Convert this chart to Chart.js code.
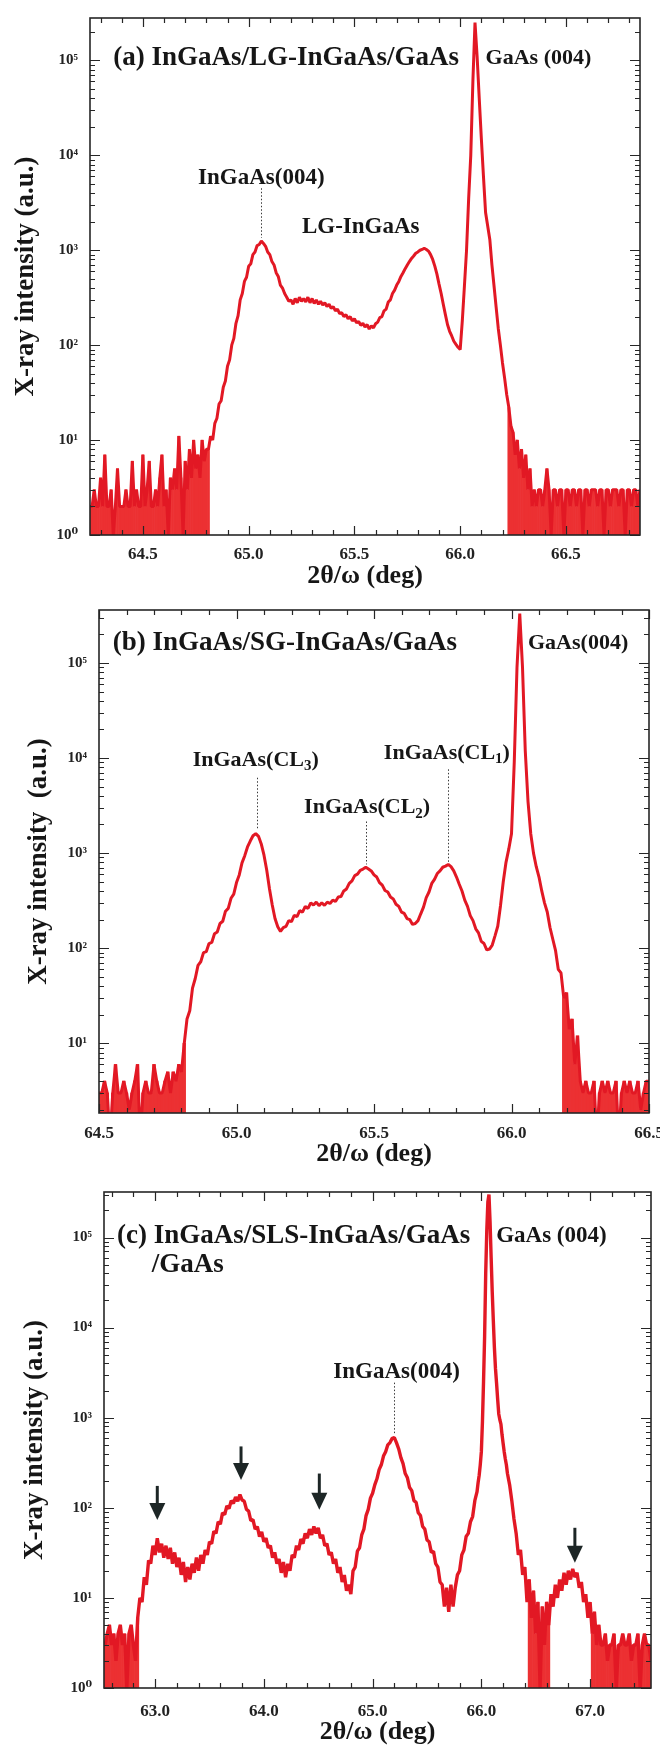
<!DOCTYPE html>
<html lang="en">
<head>
<meta charset="utf-8">
<title>HRXRD 2θ/ω scans</title>
<script src="https://cdn.jsdelivr.net/npm/chart.js@4.4.1/dist/chart.umd.min.js"></script>
<style>
  html, body { margin: 0; padding: 0; background: #fff; }
  #page { position: relative; width: 660px; height: 1748px; overflow: hidden; background: #fff; }
  #page canvas { position: absolute; left: 0; }
</style>
</head>
<body>
<div id="page">
  <canvas id="scanA" width="660" height="592" style="top:0px"></canvas>
  <canvas id="scanB" width="660" height="578" style="top:592px"></canvas>
  <canvas id="scanC" width="660" height="578" style="top:1170px"></canvas>
</div>
<script>
// === Scan data: [2θ/ω (deg), intensity (counts)] ===

// (a) InGaAs/LG-InGaAs/GaAs
const scanA = [
  [64.25,2],[64.26,2],[64.27,3],[64.28,2],[64.29,2],[64.30,4],[64.31,2],[64.32,7],[64.33,2],[64.34,2],
  [64.35,3],[64.36,1],[64.37,2],[64.38,5],[64.39,2],[64.40,2],[64.41,2],[64.42,3],[64.43,2],[64.44,2],
  [64.45,6],[64.46,2],[64.47,3],[64.48,2],[64.49,2],[64.50,7],[64.51,2],[64.52,3],[64.53,6],[64.54,2],
  [64.55,2],[64.56,3],[64.57,2],[64.58,4],[64.59,7],[64.60,2],[64.61,3],[64.62,1],[64.63,4],[64.64,3],
  [64.65,5],[64.66,3],[64.67,11],[64.68,4],[64.69,1],[64.70,6],[64.71,3],[64.72,8],[64.73,4],[64.74,10],
  [64.75,5],[64.76,7],[64.77,4],[64.78,10],[64.79,6],[64.80,8],
  [64.81,8],[64.82,11],[64.83,10],[64.84,15],[64.85,17],[64.86,24],[64.87,26],[64.88,36],[64.89,42],[64.90,60],
  [64.91,70],[64.92,100],[64.93,118],[64.94,170],[64.95,205],[64.96,300],[64.97,350],[64.98,470],[64.99,520],[65.00,680],
  [65.01,720],[65.02,900],[65.03,960],[65.04,1120],[65.05,1150],[65.06,1250],[65.07,1180],[65.08,1100],[65.09,960],[65.10,900],
  [65.11,760],[65.12,700],[65.13,580],[65.14,530],[65.15,430],[65.16,400],[65.17,350],[65.18,320],[65.19,290],[65.20,300],
  [65.21,270],[65.22,310],[65.23,280],[65.24,320],[65.25,290],[65.26,310],[65.27,285],[65.28,320],[65.29,280],[65.30,310],
  [65.31,275],[65.32,300],[65.33,270],[65.34,290],[65.35,265],[65.36,280],[65.37,255],[65.38,270],[65.39,245],[65.40,255],
  [65.41,230],[65.42,240],[65.43,215],[65.44,220],[65.45,200],[65.46,210],[65.47,190],[65.48,200],[65.49,180],[65.50,190],
  [65.51,172],[65.52,178],[65.53,162],[65.54,170],[65.55,155],[65.56,165],[65.57,148],[65.58,160],[65.59,152],[65.60,168],
  [65.61,175],[65.62,195],[65.63,200],[65.64,230],[65.65,240],[65.66,285],[65.67,300],[65.68,350],[65.69,380],[65.70,430],
  [65.71,470],[65.72,530],[65.73,580],[65.74,640],[65.75,700],[65.76,760],[65.77,820],[65.78,870],[65.79,930],[65.80,960],
  [65.81,1000],[65.82,1020],[65.83,1050],[65.84,1020],[65.85,980],[65.86,900],[65.87,800],[65.88,680],[65.89,560],[65.90,440],
  [65.91,350],[65.92,270],[65.93,210],[65.94,165],[65.95,140],[65.96,125],[65.97,110],[65.98,102],[65.99,95],[66.00,90],
  [66.01,180],[66.02,420],[66.03,1000],[66.04,3500],[66.05,10000],[66.06,60000],[66.07,250000],[66.08,110000],[66.09,40000],[66.10,15000],
  [66.11,6000],[66.12,2500],[66.13,1800],[66.14,1300],[66.15,700],[66.16,420],[66.17,250],[66.18,150],[66.19,100],[66.20,65],
  [66.21,45],[66.22,30],[66.23,22],[66.24,14],[66.25,12],[66.26,7],[66.27,10],[66.28,5],[66.29,8],[66.30,4],
  [66.31,7],[66.32,3],[66.33,5],[66.34,2],
  [66.35,3],[66.36,2],[66.37,3],[66.38,3],[66.39,2],[66.40,3],[66.41,5],[66.42,3],[66.43,1],[66.44,3],
  [66.45,3],[66.46,2],[66.47,3],[66.48,3],[66.49,1],[66.50,3],[66.51,3],[66.52,2],[66.53,3],[66.54,3],
  [66.55,2],[66.56,3],[66.57,3],[66.58,1],[66.59,3],[66.60,3],[66.61,2],[66.62,3],[66.63,3],[66.64,3],
  [66.65,2],[66.66,3],[66.67,3],[66.68,1],[66.69,3],[66.70,3],[66.71,2],[66.72,3],[66.73,3],[66.74,3],
  [66.75,2],[66.76,3],[66.77,3],[66.78,1],[66.79,3],[66.80,3],[66.81,2],[66.82,3],[66.83,3],[66.84,2],[66.85,3]
];

// (b) InGaAs/SG-InGaAs/GaAs
const scanB = [
  [64.50,3],[64.51,3],[64.52,4],[64.53,3],[64.54,1],[64.55,3],[64.56,6],[64.57,3],[64.58,3],[64.59,4],
  [64.60,3],[64.61,2],[64.62,3],[64.63,4],[64.64,6],[64.65,1],[64.66,3],[64.67,4],[64.68,3],[64.69,3],
  [64.70,6],[64.71,4],[64.72,3],[64.73,3],[64.74,4],[64.75,5],[64.76,3],[64.77,5],[64.78,4],[64.79,6],[64.80,5],
  [64.81,10],[64.82,18],[64.83,22],[64.84,38],[64.85,48],[64.86,66],[64.87,72],[64.88,90],[64.89,92],[64.90,112],
  [64.91,115],[64.92,142],[64.93,148],[64.94,182],[64.95,192],[64.96,245],[64.97,262],[64.98,335],[64.99,370],[65.00,490],
  [65.01,590],[65.02,790],[65.03,940],[65.04,1160],[65.05,1340],[65.06,1520],[65.07,1600],[65.08,1500],[65.09,1250],[65.10,950],
  [65.11,660],[65.12,420],[65.13,285],[65.14,205],[65.15,168],[65.16,150],[65.17,165],[65.18,170],[65.19,195],[65.20,190],
  [65.21,222],[65.22,215],[65.23,248],[65.24,240],[65.25,275],[65.26,262],[65.27,300],[65.28,285],[65.29,305],[65.30,280],
  [65.31,300],[65.32,282],[65.33,305],[65.34,295],[65.35,320],[65.36,310],[65.37,345],[65.38,350],[65.39,400],[65.40,420],
  [65.41,480],[65.42,510],[65.43,580],[65.44,600],[65.45,660],[65.46,680],[65.47,710],[65.48,680],[65.49,650],[65.50,590],
  [65.51,560],[65.52,490],[65.53,460],[65.54,405],[65.55,390],[65.56,345],[65.57,330],[65.58,290],[65.59,275],[65.60,240],
  [65.61,232],[65.62,205],[65.63,200],[65.64,178],[65.65,182],[65.66,195],[65.67,230],[65.68,270],[65.69,340],[65.70,390],
  [65.71,480],[65.72,530],[65.73,610],[65.74,650],[65.75,710],[65.76,730],[65.77,760],[65.78,720],[65.79,650],[65.80,560],
  [65.81,470],[65.82,400],[65.83,320],[65.84,275],[65.85,220],[65.86,195],[65.87,160],[65.88,145],[65.89,118],[65.90,112],
  [65.91,96],[65.92,98],[65.93,108],[65.94,135],[65.95,170],[65.96,280],[65.97,500],[65.98,800],[65.99,1100],[66.00,1600],
  [66.01,9000],[66.02,90000],[66.03,330000],[66.04,90000],[66.05,12000],[66.06,3500],[66.07,1600],[66.08,1000],[66.09,720],[66.10,560],
  [66.11,400],[66.12,300],[66.13,240],[66.14,165],[66.15,125],[66.16,95],[66.17,60],[66.18,55],[66.19,30],[66.20,34],
  [66.21,14],[66.22,18],[66.23,6],[66.24,12],[66.25,4],
  [66.26,3],[66.27,4],[66.28,3],[66.29,3],[66.30,4],[66.31,1],[66.32,3],[66.33,4],[66.34,3],[66.35,4],
  [66.36,3],[66.37,3],[66.38,4],[66.39,1],[66.40,3],[66.41,4],[66.42,3],[66.43,4],[66.44,3],[66.45,3],
  [66.46,4],[66.47,2],[66.48,3],[66.49,4],[66.50,4]
];

// (c) InGaAs/SLS-InGaAs/GaAs/GaAs
const scanC = [
  [62.54,3],[62.56,4],[62.58,5],[62.60,3],[62.62,4],[62.64,2],[62.66,4],[62.68,5],[62.70,3],[62.72,4],
  [62.74,1],[62.76,4],[62.78,5],[62.80,3],[62.82,2],
  [62.84,6],[62.86,10],[62.88,9],[62.90,17],[62.92,14],[62.94,26],[62.96,24],[62.98,38],[63.00,30],[63.02,46],
  [63.04,32],[63.06,40],[63.08,28],[63.10,38],[63.12,27],[63.14,36],[63.16,24],[63.18,32],[63.20,22],[63.22,28],
  [63.24,18],[63.26,25],[63.28,15],[63.30,22],[63.32,16],[63.34,24],[63.36,19],[63.38,28],[63.40,20],[63.42,30],
  [63.44,24],[63.46,34],[63.48,30],[63.50,42],[63.52,40],[63.54,55],[63.56,52],[63.58,70],[63.60,66],[63.62,88],
  [63.64,84],[63.66,105],[63.68,98],[63.70,120],[63.72,112],[63.74,132],[63.76,118],[63.78,140],[63.80,122],[63.82,118],
  [63.84,96],[63.86,92],[63.88,72],[63.90,74],[63.92,58],[63.94,62],[63.96,48],[63.98,54],[64.00,42],[64.02,46],
  [64.04,36],[64.06,38],[64.08,28],[64.10,32],[64.12,24],[64.14,27],[64.16,19],[64.18,25],[64.20,17],[64.22,24],
  [64.24,20],[64.26,30],[64.28,28],[64.30,38],[64.32,34],[64.34,45],[64.36,40],[64.38,52],[64.40,46],[64.42,58],
  [64.44,50],[64.46,62],[64.48,52],[64.50,60],[64.52,46],[64.54,50],[64.56,38],[64.58,40],[64.60,30],[64.62,32],
  [64.64,24],[64.66,27],[64.68,19],[64.70,22],[64.72,15],[64.74,18],[64.76,12],[64.78,14],[64.80,11],[64.82,20],
  [64.84,22],[64.86,33],[64.88,36],[64.90,50],[64.92,58],[64.94,82],[64.96,96],[64.98,128],[65.00,145],[65.02,180],
  [65.04,210],[65.06,265],[65.08,300],[65.10,375],[65.12,420],[65.14,500],[65.16,530],[65.18,590],[65.20,600],[65.22,525],
  [65.24,450],[65.26,360],[65.28,310],[65.30,240],[65.32,215],[65.34,168],[65.36,155],[65.38,120],[65.40,115],[65.42,88],
  [65.44,82],[65.46,62],[65.48,58],[65.50,44],[65.52,42],[65.54,32],[65.56,33],[65.58,24],[65.60,22],[65.62,15],
  [65.64,14],[65.66,8],[65.68,13],[65.70,7],[65.72,14],[65.74,8],[65.76,13],[65.78,18],[65.80,20],[65.82,30],
  [65.84,34],[65.86,48],[65.88,52],[65.90,70],[65.92,80],[65.94,120],
  [65.96,150],[65.97,190],[65.98,230],[65.99,300],[66.00,420],[66.01,900],[66.02,2500],[66.03,8000],[66.04,40000],[66.05,120000],
  [66.06,250000],[66.07,300000],[66.08,150000],[66.09,60000],[66.10,25000],[66.11,12000],[66.12,6000],[66.13,3500],[66.14,2400],[66.15,1600],
  [66.16,1100],[66.17,950],[66.18,850],[66.19,650],[66.20,520],[66.21,420],[66.22,350],[66.23,300],[66.24,240],
  [66.26,180],[66.28,120],[66.30,75],[66.32,52],[66.34,30],[66.36,34],[66.38,18],[66.40,22],[66.42,9],[66.44,16],
  [66.46,6],[66.48,12],[66.50,4],[66.52,9],[66.54,1],[66.56,8],[66.58,3],[66.60,9],[66.62,5],[66.64,11],
  [66.66,8],[66.68,14],[66.70,10],[66.72,16],[66.74,12],[66.76,19],[66.78,14],[66.80,20],[66.82,16],[66.84,21],
  [66.86,17],[66.88,19],[66.90,13],[66.92,15],[66.94,9],[66.96,11],[66.98,6],[67.00,9],[67.02,4],[67.04,7],
  [67.06,3],[67.08,5],
  [67.10,3],[67.12,3],[67.14,4],[67.16,2],[67.18,3],[67.20,3],[67.22,4],[67.24,1],[67.26,3],[67.28,3],
  [67.30,4],[67.32,3],[67.34,3],[67.36,4],[67.38,2],[67.40,3],[67.42,3],[67.44,4],[67.46,1],[67.48,3],
  [67.50,4],[67.52,3],[67.54,3],[67.56,2]
];

// background-level stretches of each scan (2θ/ω ranges, deg)
const floorA = [[64.25, 64.81], [66.23, 66.85]];
const floorB = [[64.50, 64.81], [66.19, 66.50]];
const floorC = [[62.54, 62.84], [66.44, 66.62], [67.02, 67.56]];

// tick values and labels
const xTicksAB = [64.5, 65.0, 65.5, 66.0, 66.5];
const xTicksC = [63.0, 64.0, 65.0, 66.0, 67.0];
const yDecades = [1, 10, 100, 1000, 10000, 100000];
const yDecadeLabels = ['10⁰', '10¹', '10²', '10³', '10⁴', '10⁵'];

// captions and peak names
const xTitle = '2θ/ω (deg)';
const yTitle = 'X-ray intensity (a.u.)';
const captionA = '(a) InGaAs/LG-InGaAs/GaAs';
const captionB = '(b) InGaAs/SG-InGaAs/GaAs';
const captionC = ['(c) InGaAs/SLS-InGaAs/GaAs', '/GaAs'];
const peakNamesA = ['GaAs (004)', 'InGaAs(004)', 'LG-InGaAs'];
const peakNamesB = ['GaAs(004)', 'InGaAs(CL', 'InGaAs(CL', 'InGaAs(CL'];
const peakNamesC = ['GaAs (004)', 'InGaAs(004)'];
// satellite peaks marked with arrows in (c): [position, arrow tail, arrow tip]
const arrowsC = [[63.02, 175, 73], [63.79, 480, 204], [64.51, 240, 95], [66.86, 60, 24.5]];

const serif = '"Liberation Serif", "Times New Roman", "DejaVu Serif", serif';
const lineRed = 'rgb(226, 24, 36)';
const floorFill = 'rgb(236, 48, 50)';
const ink = '#161616';

// frame with inward ticks on all four sides
const framePlugin = {
  id: 'xrdFrame',
  afterDatasetsDraw(chart, args, opts) {
    const { ctx, chartArea: a, scales: { x, y } } = chart;
    ctx.save();
    ctx.strokeStyle = '#262626';
    ctx.lineWidth = 1.2;
    ctx.beginPath();
    const first = Math.ceil(x.min / opts.xMinor - 1e-6);
    for (let i = first; i * opts.xMinor <= x.max + 1e-9; i++) {
      const v = i * opts.xMinor;
      const isMajor = Math.abs(v / opts.xMajor - Math.round(v / opts.xMajor)) < 1e-6;
      const len = isMajor ? 9 : 5;
      const px = Math.round(x.getPixelForValue(v)) + 0.5;
      ctx.moveTo(px, a.bottom); ctx.lineTo(px, a.bottom - len);
      ctx.moveTo(px, a.top); ctx.lineTo(px, a.top + len);
    }
    const d0 = Math.floor(Math.log10(y.min));
    const d1 = Math.ceil(Math.log10(y.max));
    for (let d = d0; d <= d1; d++) {
      for (let k = 1; k <= 9; k++) {
        const v = k * Math.pow(10, d);
        if (v < y.min || v > y.max) continue;
        const len = k === 1 ? 10 : 5;
        const py = Math.round(y.getPixelForValue(v)) + 0.5;
        ctx.moveTo(a.left, py); ctx.lineTo(a.left + len, py);
        ctx.moveTo(a.right, py); ctx.lineTo(a.right - len, py);
      }
    }
    ctx.stroke();
    ctx.lineWidth = 1.6;
    ctx.strokeRect(a.left, a.top, a.right - a.left, a.bottom - a.top);
    ctx.restore();
  }
};

function drawLabel(ctx, t, x, y) {
  const size = t.size;
  const main = `bold ${size}px ${serif}`;
  const small = `bold ${Math.round(size * 0.66)}px ${serif}`;
  ctx.font = main;
  const w1 = ctx.measureText(t.text).width;
  ctx.font = small;
  const w2 = t.sub ? ctx.measureText(t.sub).width : 0;
  ctx.font = main;
  const w3 = t.after ? ctx.measureText(t.after).width : 0;
  const total = w1 + w2 + w3;
  let px = x.getPixelForValue(t.x);
  if (t.align === 'center') px -= total / 2;
  const py = y.getPixelForValue(t.y);
  ctx.fillStyle = ink;
  ctx.textBaseline = 'middle';
  ctx.textAlign = 'left';
  ctx.fillText(t.text, px, py);
  if (t.sub) {
    ctx.font = small;
    ctx.fillText(t.sub, px + w1, py + size * 0.28);
    ctx.font = main;
    ctx.fillText(t.after, px + w1 + w2, py);
  }
}

// captions, peak labels, dotted leaders and arrows
const markPlugin = {
  id: 'xrdMarks',
  afterDatasetsDraw(chart, args, opts) {
    const { ctx, scales: { x, y } } = chart;
    ctx.save();
    ctx.strokeStyle = '#3a3a3a';
    ctx.lineWidth = 1;
    ctx.setLineDash([1.5, 2]);
    for (const [v, top, bottom] of opts.leaders || []) {
      const px = Math.round(x.getPixelForValue(v)) + 0.5;
      ctx.beginPath();
      ctx.moveTo(px, y.getPixelForValue(top));
      ctx.lineTo(px, y.getPixelForValue(bottom));
      ctx.stroke();
    }
    ctx.setLineDash([]);
    ctx.fillStyle = '#1d2626';
    ctx.strokeStyle = '#1d2626';
    for (const [v, tail, tip] of opts.arrows || []) {
      const px = x.getPixelForValue(v);
      const y0 = y.getPixelForValue(tail);
      const y1 = y.getPixelForValue(tip);
      ctx.lineWidth = 3;
      ctx.beginPath();
      ctx.moveTo(px, y0);
      ctx.lineTo(px, y1 - 14);
      ctx.stroke();
      ctx.beginPath();
      ctx.moveTo(px - 8, y1 - 17);
      ctx.lineTo(px + 8, y1 - 17);
      ctx.lineTo(px, y1);
      ctx.closePath();
      ctx.fill();
    }
    for (const t of opts.labels || []) drawLabel(ctx, t, x, y);
    ctx.restore();
  }
};

function buildChart(id, scan, floors, cfg) {
  const points = scan.map(([x, y]) => ({ x, y }));
  const inFloor = p => floors.some(([from, to]) => p.x >= from - 1e-9 && p.x <= to + 1e-9);
  const datasets = [
    // the scan trace, drawn on top
    {
      type: 'line',
      data: points,
      borderColor: lineRed,
      borderWidth: cfg.lineWidth,
      borderJoinStyle: 'bevel',
      pointRadius: 0,
      tension: 0,
      fill: false,
      order: 0
    },
    // counting-noise stretches as solid columns from the axis
    {
      type: 'bar',
      data: points.filter(inFloor).map(p => ({ x: p.x, y: p.y })),
      backgroundColor: floorFill,
      borderWidth: 0,
      barPercentage: 1,
      categoryPercentage: 1,
      grouped: false,
      order: 1
    }
  ];
  return new Chart(document.getElementById(id), {
    type: 'line',
    data: { datasets },
    options: {
      responsive: false,
      animation: false,
      events: [],
      layout: { padding: { top: cfg.padTop, right: cfg.padRight, left: 0, bottom: 0 } },
      plugins: {
        legend: { display: false },
        tooltip: { enabled: false },
        xrdFrame: { xMinor: cfg.xMinor, xMajor: cfg.xMajor },
        xrdMarks: { labels: cfg.labels, leaders: cfg.leaders, arrows: cfg.arrows }
      },
      scales: {
        x: {
          type: 'linear',
          min: cfg.xMin,
          max: cfg.xMax,
          offset: false,
          grid: { display: false, drawTicks: false, offset: false },
          border: { display: false },
          afterBuildTicks: s => { s.ticks = cfg.xTicks.map(v => ({ value: v })); },
          afterFit: s => { s.height = cfg.xAxisHeight; s.paddingLeft = 0; s.paddingRight = 0; },
          ticks: {
            callback: v => v.toFixed(1),
            font: { family: serif, size: 17, weight: 'bold' },
            color: '#222',
            padding: cfg.xTickPad,
            maxRotation: 0,
            autoSkip: false
          },
          title: {
            display: true,
            text: xTitle,
            font: { family: serif, size: 26, weight: 'bold' },
            color: ink,
            padding: 0
          }
        },
        y: {
          type: 'logarithmic',
          min: cfg.yMin,
          max: cfg.yMax,
          grid: { display: false, drawTicks: false },
          border: { display: false },
          afterBuildTicks: s => { s.ticks = yDecades.filter(v => v >= s.min && v <= s.max).map(v => ({ value: v })); },
          afterFit: s => { s.width = cfg.yAxisWidth; s.paddingTop = 0; s.paddingBottom = 0; },
          ticks: {
            callback: v => yDecadeLabels[yDecades.indexOf(v)],
            font: { family: serif, size: 15, weight: 'bold' },
            color: '#222',
            padding: 12,
            autoSkip: false
          },
          title: {
            display: true,
            text: cfg.yTitle,
            font: { family: serif, size: 27, weight: 'bold' },
            color: ink,
            padding: { top: cfg.yTitlePad, bottom: 0 }
          }
        }
      }
    },
    plugins: [framePlugin, markPlugin]
  });
}

// === (a) ===
buildChart('scanA', scanA, floorA, {
  xMin: 64.25, xMax: 66.85, yMin: 1, yMax: 2.8e5,
  xTicks: xTicksAB, xMinor: 0.1, xMajor: 0.5, lineWidth: 3,
  padTop: 18, padRight: 20, yAxisWidth: 90, xAxisHeight: 57, xTickPad: 9,
  yTitle: yTitle, yTitlePad: 10,
  labels: [
    { text: captionA, x: 64.36, y: 1.05e5, align: 'left', size: 27 },
    { text: peakNamesA[0], x: 66.12, y: 1.05e5, align: 'left', size: 22 },
    { text: peakNamesA[1], x: 65.06, y: 5700, align: 'center', size: 23 },
    { text: peakNamesA[2], x: 65.53, y: 1750, align: 'center', size: 23 }
  ],
  leaders: [[65.06, 4500, 1350]]
});

// === (b) ===
buildChart('scanB', scanB, floorB, {
  xMin: 64.5, xMax: 66.5, yMin: 1.85, yMax: 3.6e5,
  xTicks: xTicksAB, xMinor: 0.1, xMajor: 0.5, lineWidth: 3,
  padTop: 18, padRight: 11, yAxisWidth: 99, xAxisHeight: 57, xTickPad: 10,
  yTitle: 'X-ray intensity  (a.u.)', yTitlePad: 23,
  labels: [
    { text: captionB, x: 64.55, y: 1.6e5, align: 'left', size: 27 },
    { text: peakNamesB[0], x: 66.06, y: 1.6e5, align: 'left', size: 22 },
    { text: peakNamesB[1], sub: '3', after: ')', x: 65.07, y: 9500, align: 'center', size: 22 },
    { text: peakNamesB[2], sub: '2', after: ')', x: 65.475, y: 3000, align: 'center', size: 22 },
    { text: peakNamesB[3], sub: '1', after: ')', x: 65.765, y: 11200, align: 'center', size: 22 }
  ],
  leaders: [[65.075, 6200, 1750], [65.47, 2150, 760], [65.77, 7600, 800]]
});

// === (c) ===
buildChart('scanC', scanC, floorC, {
  xMin: 62.53, xMax: 67.56, yMin: 1, yMax: 3.2e5,
  xTicks: xTicksC, xMinor: 0.2, xMajor: 1.0, lineWidth: 3.4,
  padTop: 22, padRight: 9, yAxisWidth: 104, xAxisHeight: 60, xTickPad: 13,
  yTitle: yTitle, yTitlePad: 19,
  labels: [
    { text: captionC[0], x: 62.65, y: 1.05e5, align: 'left', size: 27 },
    { text: captionC[1], x: 62.97, y: 5.0e4, align: 'left', size: 27 },
    { text: peakNamesC[0], x: 66.136, y: 1.05e5, align: 'left', size: 23 },
    { text: peakNamesC[1], x: 65.22, y: 3250, align: 'center', size: 23 }
  ],
  leaders: [[65.2, 2450, 650]],
  arrows: arrowsC
});
</script>
</body>
</html>
